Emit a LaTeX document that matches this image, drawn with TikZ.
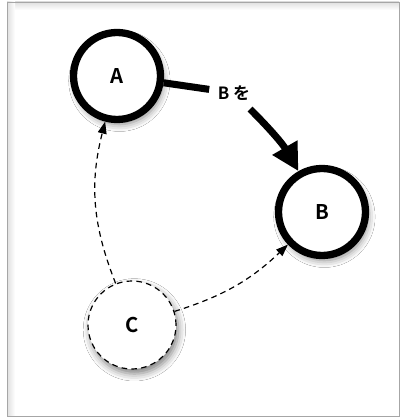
\documentclass[tikz,border=0pt]{standalone}
\usepackage{fontspec}
\newfontfamily\jpfont{Noto Sans CJK JP Bold}
\usetikzlibrary{arrows.meta,shadows.blur}

\begin{document}
\begin{tikzpicture}[every node/.style={font=\jpfont\Large},
        state/.style={circle,draw,fill=white,line width=5.2pt,minimum size=2.175cm,
            blur shadow={shadow xshift=0.06cm,shadow yshift=-0.12cm,shadow blur radius=0.18cm,shadow opacity=50}},
        hidden/.style={state,line width=0.85pt,dash pattern=on 4pt off 3pt,minimum size=2.2cm},
        link/.style={line width=0.85pt,dash pattern=on 4pt off 3pt,-{Triangle[length=0.3cm,width=0.22cm]}},
        move/.style={line width=5pt,-{Triangle[length=0.68cm,width=0.68cm]}}]
    \useasboundingbox (0,0) rectangle (10.025,10.45);
    % frame with a soft inner edge
    \fill[white] (0.175,0.05) rectangle (9.975,10.4);
    \fill[top color=gray!25,bottom color=white] (0.175,10.2) rectangle (9.975,10.4);
    \fill[left color=gray!25,right color=white] (0.175,0.05) rectangle (0.375,10.4);
    \draw[gray!70,line width=0.6pt] (0.175,0.05) rectangle (9.975,10.4);
    % states
    \node[state] (A) at (2.925,8.55) {A};
    \node[state] (B) at (8.05,5.15) {B};
    \node[hidden] (C) at (3.3,2.325) {C};
    \node[font=\jpfont\large,inner sep=6pt] (L) at (5.85,8.125) {B を};
    \draw[line width=5pt] (A) -- (L);
    \draw[move] (L) to[out=-45,in=120] (B);
    \draw[link] (C) to[bend left=18] (A);
    \draw[link] (C) to[bend right=13] (B);
\end{tikzpicture}
\end{document}
